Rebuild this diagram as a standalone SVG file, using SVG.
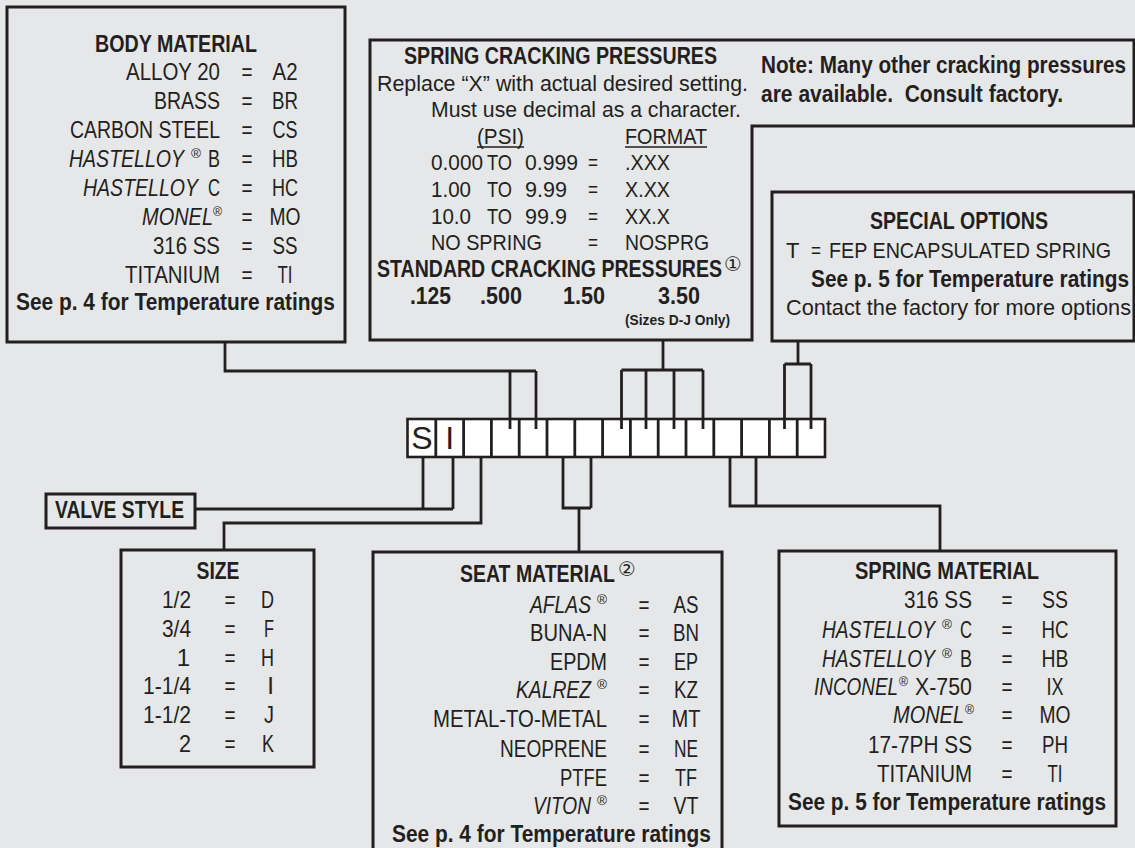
<svg xmlns="http://www.w3.org/2000/svg" width="1135" height="848" viewBox="0 0 1135 848">
<style>
.box{fill:none;stroke:#231f20;stroke-width:3}
.ln{fill:none;stroke:#231f20;stroke-width:2.8}
.cell{fill:#ffffff;stroke:#231f20;stroke-width:2.6}
text{font-family:'Liberation Sans Narrow','Liberation Sans',Arial,sans-serif;fill:#231f20}
.r{font-size:24px}
.s{font-size:22px}
.b{font-size:23px;font-weight:bold}
.m{text-anchor:middle}
.e{text-anchor:end}
.i{font-style:italic}
.sup{font-size:13px}
.circ{font-size:20px;font-family:'DejaVu Sans','Noto Sans CJK SC',sans-serif}
</style>
<rect x="0" y="0" width="1135" height="848" fill="#e6e7e9"/>

<g id="connectors">
<path class="ln" d="M225,342 V371 H536 M510,371 V429 M536,371 V429"/>
<path class="ln" d="M663,340 V370 M621.5,370 H703 M621.5,370 V429 M646,370 V429 M674,370 V429 M703,370 V429"/>
<path class="ln" d="M798,341 V364 M784.5,364 H811 M784.5,364 V429 M811,364 V429"/>
<path class="ln" d="M423,457 V509 M453,457 V509 M195,509 H453"/>
<path class="ln" d="M481,448 V523 H224 V550"/>
<path class="ln" d="M563,448 V508 H591 M591,448 V508 M579,508 V552"/>
<path class="ln" d="M730,448 V506 H940 V551 M756,448 V506"/>
</g>

<g id="code-row">
<rect class="cell" x="407.5" y="419" width="417.5" height="38"/>
<path class="ln" d="M435.8,419 V457 M463.6,419 V457 M491.4,419 V457 M519.2,419 V457 M547,419 V457 M574.8,419 V457 M602.6,419 V457 M630.4,419 V457 M658.2,419 V457 M686,419 V457 M713.8,419 V457 M741.6,419 V457 M769.4,419 V457 M797.2,419 V457" stroke-width="2.6"/>
<path class="ln" d="M510,429 V419 M536,429 V419 M621.5,429 V419 M646,429 V419 M674,429 V419 M703,429 V419 M784.5,429 V419 M811,429 V419"/>
<text x="422" y="448.5" class="m" style="font-size:32px">S</text>
<text x="449.7" y="448.5" class="m" style="font-size:32px">I</text>
</g>

<g id="body-material">
<rect class="box" x="7" y="7" width="338" height="335"/>
<text class="b m" x="176" y="52" textLength="162" lengthAdjust="spacingAndGlyphs">BODY MATERIAL</text>
<text class="r e" x="220" y="80" textLength="94" lengthAdjust="spacingAndGlyphs">ALLOY 20</text><text class="r m" x="247" y="80" textLength="11" lengthAdjust="spacingAndGlyphs">=</text><text class="r m" x="285" y="80" textLength="25" lengthAdjust="spacingAndGlyphs">A2</text>
<text class="r e" x="220" y="109" textLength="66" lengthAdjust="spacingAndGlyphs">BRASS</text><text class="r m" x="247" y="109" textLength="11" lengthAdjust="spacingAndGlyphs">=</text><text class="r m" x="285" y="109" textLength="26" lengthAdjust="spacingAndGlyphs">BR</text>
<text class="r e" x="220" y="138" textLength="150" lengthAdjust="spacingAndGlyphs">CARBON STEEL</text><text class="r m" x="247" y="138" textLength="11" lengthAdjust="spacingAndGlyphs">=</text><text class="r m" x="285" y="138" textLength="25" lengthAdjust="spacingAndGlyphs">CS</text>
<text class="r i" x="69" y="167" textLength="115" lengthAdjust="spacingAndGlyphs">HASTELLOY</text><text class="sup" x="191" y="158" textLength="10" lengthAdjust="spacingAndGlyphs">®</text><text class="r e" x="220" y="167" textLength="12" lengthAdjust="spacingAndGlyphs">B</text><text class="r m" x="247" y="167" textLength="11" lengthAdjust="spacingAndGlyphs">=</text><text class="r m" x="285" y="167" textLength="26" lengthAdjust="spacingAndGlyphs">HB</text>
<text class="r i" x="83" y="196" textLength="115" lengthAdjust="spacingAndGlyphs">HASTELLOY</text><text class="r e" x="220" y="196" textLength="12" lengthAdjust="spacingAndGlyphs">C</text><text class="r m" x="247" y="196" textLength="11" lengthAdjust="spacingAndGlyphs">=</text><text class="r m" x="285" y="196" textLength="26" lengthAdjust="spacingAndGlyphs">HC</text>
<text class="r i" x="142" y="225" textLength="71" lengthAdjust="spacingAndGlyphs">MONEL</text><text class="sup" x="213" y="216" textLength="9" lengthAdjust="spacingAndGlyphs">®</text><text class="r m" x="247" y="225" textLength="11" lengthAdjust="spacingAndGlyphs">=</text><text class="r m" x="285" y="225" textLength="31" lengthAdjust="spacingAndGlyphs">MO</text>
<text class="r e" x="220" y="254" textLength="67" lengthAdjust="spacingAndGlyphs">316 SS</text><text class="r m" x="247" y="254" textLength="11" lengthAdjust="spacingAndGlyphs">=</text><text class="r m" x="285" y="254" textLength="25" lengthAdjust="spacingAndGlyphs">SS</text>
<text class="r e" x="220" y="283" textLength="95" lengthAdjust="spacingAndGlyphs">TITANIUM</text><text class="r m" x="247" y="283" textLength="11" lengthAdjust="spacingAndGlyphs">=</text><text class="r m" x="285" y="283" textLength="15" lengthAdjust="spacingAndGlyphs">TI</text>
<text class="b" x="16" y="310" textLength="319" lengthAdjust="spacingAndGlyphs">See p. 4 for Temperature ratings</text>
</g>

<g id="spring-cracking-pressures">
<path class="box" d="M370,40 H1134 V126 H752 V340 H370 Z"/>
<text class="b" x="404" y="64" textLength="313" lengthAdjust="spacingAndGlyphs">SPRING CRACKING PRESSURES</text>
<text class="s" x="377" y="91" textLength="371" lengthAdjust="spacingAndGlyphs">Replace “X” with actual desired setting.</text>
<text class="s" x="431" y="117" textLength="310" lengthAdjust="spacingAndGlyphs">Must use decimal as a character.</text>
<text class="s" x="477" y="144" textLength="47" lengthAdjust="spacingAndGlyphs">(PSI)</text>
<text class="s" x="625" y="144" textLength="82" lengthAdjust="spacingAndGlyphs">FORMAT</text>
<path d="M477,147 H524 M625,147 H707" stroke="#231f20" stroke-width="1.3" fill="none"/>
<text class="s" x="431" y="170" textLength="52" lengthAdjust="spacingAndGlyphs">0.000</text><text class="s" x="487" y="170" textLength="25" lengthAdjust="spacingAndGlyphs">TO</text><text class="s" x="525" y="170" textLength="53" lengthAdjust="spacingAndGlyphs">0.999</text><text class="s" x="588" y="170" textLength="10" lengthAdjust="spacingAndGlyphs">=</text><text class="s" x="625" y="170" textLength="45" lengthAdjust="spacingAndGlyphs">.XXX</text>
<text class="s" x="431" y="197" textLength="40" lengthAdjust="spacingAndGlyphs">1.00</text><text class="s" x="487" y="197" textLength="25" lengthAdjust="spacingAndGlyphs">TO</text><text class="s" x="525" y="197" textLength="42" lengthAdjust="spacingAndGlyphs">9.99</text><text class="s" x="588" y="197" textLength="10" lengthAdjust="spacingAndGlyphs">=</text><text class="s" x="625" y="197" textLength="45" lengthAdjust="spacingAndGlyphs">X.XX</text>
<text class="s" x="431" y="224" textLength="40" lengthAdjust="spacingAndGlyphs">10.0</text><text class="s" x="487" y="224" textLength="25" lengthAdjust="spacingAndGlyphs">TO</text><text class="s" x="525" y="224" textLength="42" lengthAdjust="spacingAndGlyphs">99.9</text><text class="s" x="588" y="224" textLength="10" lengthAdjust="spacingAndGlyphs">=</text><text class="s" x="625" y="224" textLength="45" lengthAdjust="spacingAndGlyphs">XX.X</text>
<text class="s" x="431" y="250" textLength="111" lengthAdjust="spacingAndGlyphs">NO SPRING</text><text class="s" x="588" y="250" textLength="10" lengthAdjust="spacingAndGlyphs">=</text><text class="s" x="625" y="250" textLength="84" lengthAdjust="spacingAndGlyphs">NOSPRG</text>
<text class="b" x="377" y="277" textLength="345" lengthAdjust="spacingAndGlyphs">STANDARD CRACKING PRESSURES</text>
<text class="circ" x="724" y="271">①</text>
<text class="b" x="410" y="304" textLength="41" lengthAdjust="spacingAndGlyphs">.125</text>
<text class="b" x="480" y="304" textLength="42" lengthAdjust="spacingAndGlyphs">.500</text>
<text class="b" x="563" y="304" textLength="42" lengthAdjust="spacingAndGlyphs">1.50</text>
<text class="b" x="658" y="304" textLength="42" lengthAdjust="spacingAndGlyphs">3.50</text>
<text x="625" y="325" style="font-size:15px;font-weight:bold" textLength="105" lengthAdjust="spacingAndGlyphs">(Sizes D-J Only)</text>
<text class="b" x="761" y="73" textLength="365" lengthAdjust="spacingAndGlyphs" style="font-size:24px">Note: Many other cracking pressures</text>
<text class="b" x="761" y="102" textLength="302" lengthAdjust="spacingAndGlyphs" style="font-size:24px">are available.&#160; Consult factory.</text>
</g>

<g id="special-options">
<rect class="box" x="772" y="192" width="362" height="149"/>
<text class="b" x="870" y="229" textLength="178" lengthAdjust="spacingAndGlyphs">SPECIAL OPTIONS</text>
<text class="s" x="786" y="258">T</text><text class="s" x="811" y="258" textLength="10" lengthAdjust="spacingAndGlyphs">=</text>
<text class="s" x="829" y="258" textLength="282" lengthAdjust="spacingAndGlyphs">FEP ENCAPSULATED SPRING</text>
<text class="b" x="811" y="287" textLength="318" lengthAdjust="spacingAndGlyphs">See p. 5 for Temperature ratings</text>
<text class="s" x="786" y="315" textLength="345" lengthAdjust="spacingAndGlyphs">Contact the factory for more options</text>
</g>

<g id="valve-style">
<rect class="box" x="46" y="494" width="149" height="34"/>
<text class="b" x="55" y="518" textLength="129" lengthAdjust="spacingAndGlyphs">VALVE STYLE</text>
</g>

<g id="size">
<rect class="box" x="121" y="550" width="193" height="217"/>
<text class="b m" x="218" y="579" textLength="43" lengthAdjust="spacingAndGlyphs">SIZE</text>
<text class="r e" x="191" y="608" textLength="29" lengthAdjust="spacingAndGlyphs">1/2</text><text class="r m" x="230" y="608" textLength="11" lengthAdjust="spacingAndGlyphs">=</text><text class="r e" x="274" y="608" textLength="13" lengthAdjust="spacingAndGlyphs">D</text>
<text class="r e" x="191" y="637" textLength="29" lengthAdjust="spacingAndGlyphs">3/4</text><text class="r m" x="230" y="637" textLength="11" lengthAdjust="spacingAndGlyphs">=</text><text class="r e" x="274" y="637" textLength="10" lengthAdjust="spacingAndGlyphs">F</text>
<text class="r e" x="190" y="666">1</text><text class="r m" x="230" y="666" textLength="11" lengthAdjust="spacingAndGlyphs">=</text><text class="r e" x="274" y="666" textLength="13" lengthAdjust="spacingAndGlyphs">H</text>
<text class="r e" x="191" y="694" textLength="48" lengthAdjust="spacingAndGlyphs">1-1/4</text><text class="r m" x="230" y="694" textLength="11" lengthAdjust="spacingAndGlyphs">=</text><text class="r e" x="274" y="694">I</text>
<text class="r e" x="191" y="723" textLength="48" lengthAdjust="spacingAndGlyphs">1-1/2</text><text class="r m" x="230" y="723" textLength="11" lengthAdjust="spacingAndGlyphs">=</text><text class="r e" x="274" y="723" textLength="10" lengthAdjust="spacingAndGlyphs">J</text>
<text class="r e" x="191" y="752" textLength="12" lengthAdjust="spacingAndGlyphs">2</text><text class="r m" x="230" y="752" textLength="11" lengthAdjust="spacingAndGlyphs">=</text><text class="r e" x="274" y="752" textLength="12" lengthAdjust="spacingAndGlyphs">K</text>
</g>

<g id="seat-material">
<rect class="box" x="373" y="552" width="349" height="310"/>
<text class="b" x="460" y="582" textLength="155" lengthAdjust="spacingAndGlyphs">SEAT MATERIAL</text>
<text class="circ" x="618" y="576">②</text>
<text class="r i" x="530" y="613" textLength="61" lengthAdjust="spacingAndGlyphs">AFLAS</text><text class="sup" x="597" y="604" textLength="10" lengthAdjust="spacingAndGlyphs">®</text><text class="r m" x="644" y="613" textLength="11" lengthAdjust="spacingAndGlyphs">=</text><text class="r m" x="686" y="613" textLength="25" lengthAdjust="spacingAndGlyphs">AS</text>
<text class="r e" x="607" y="641" textLength="77" lengthAdjust="spacingAndGlyphs">BUNA-N</text><text class="r m" x="644" y="641" textLength="11" lengthAdjust="spacingAndGlyphs">=</text><text class="r m" x="686" y="641" textLength="26" lengthAdjust="spacingAndGlyphs">BN</text>
<text class="r e" x="607" y="670" textLength="57" lengthAdjust="spacingAndGlyphs">EPDM</text><text class="r m" x="644" y="670" textLength="11" lengthAdjust="spacingAndGlyphs">=</text><text class="r m" x="686" y="670" textLength="24" lengthAdjust="spacingAndGlyphs">EP</text>
<text class="r i" x="516" y="698" textLength="75" lengthAdjust="spacingAndGlyphs">KALREZ</text><text class="sup" x="597" y="689" textLength="10" lengthAdjust="spacingAndGlyphs">®</text><text class="r m" x="644" y="698" textLength="11" lengthAdjust="spacingAndGlyphs">=</text><text class="r m" x="686" y="698" textLength="24" lengthAdjust="spacingAndGlyphs">KZ</text>
<text class="r e" x="607" y="727" textLength="174" lengthAdjust="spacingAndGlyphs">METAL-TO-METAL</text><text class="r m" x="644" y="727" textLength="11" lengthAdjust="spacingAndGlyphs">=</text><text class="r m" x="686" y="727" textLength="29" lengthAdjust="spacingAndGlyphs">MT</text>
<text class="r e" x="607" y="757" textLength="107" lengthAdjust="spacingAndGlyphs">NEOPRENE</text><text class="r m" x="644" y="757" textLength="11" lengthAdjust="spacingAndGlyphs">=</text><text class="r m" x="686" y="757" textLength="24" lengthAdjust="spacingAndGlyphs">NE</text>
<text class="r e" x="607" y="786" textLength="47" lengthAdjust="spacingAndGlyphs">PTFE</text><text class="r m" x="644" y="786" textLength="11" lengthAdjust="spacingAndGlyphs">=</text><text class="r m" x="686" y="786" textLength="22" lengthAdjust="spacingAndGlyphs">TF</text>
<text class="r i" x="533" y="814" textLength="58" lengthAdjust="spacingAndGlyphs">VITON</text><text class="sup" x="597" y="805" textLength="10" lengthAdjust="spacingAndGlyphs">®</text><text class="r m" x="644" y="814" textLength="11" lengthAdjust="spacingAndGlyphs">=</text><text class="r m" x="686" y="814" textLength="25" lengthAdjust="spacingAndGlyphs">VT</text>
<text class="b" x="392" y="842" textLength="319" lengthAdjust="spacingAndGlyphs">See p. 4 for Temperature ratings</text>
</g>

<g id="spring-material">
<rect class="box" x="779" y="551" width="337" height="275"/>
<text class="b" x="855" y="579" textLength="184" lengthAdjust="spacingAndGlyphs">SPRING MATERIAL</text>
<text class="r e" x="972" y="608" textLength="68" lengthAdjust="spacingAndGlyphs">316 SS</text><text class="r m" x="1007" y="608" textLength="11" lengthAdjust="spacingAndGlyphs">=</text><text class="r m" x="1055" y="608" textLength="26" lengthAdjust="spacingAndGlyphs">SS</text>
<text class="r i" x="822" y="638" textLength="113" lengthAdjust="spacingAndGlyphs">HASTELLOY</text><text class="sup" x="942" y="629" textLength="10" lengthAdjust="spacingAndGlyphs">®</text><text class="r e" x="972" y="638" textLength="12" lengthAdjust="spacingAndGlyphs">C</text><text class="r m" x="1007" y="638" textLength="11" lengthAdjust="spacingAndGlyphs">=</text><text class="r m" x="1055" y="638" textLength="27" lengthAdjust="spacingAndGlyphs">HC</text>
<text class="r i" x="822" y="667" textLength="113" lengthAdjust="spacingAndGlyphs">HASTELLOY</text><text class="sup" x="942" y="658" textLength="10" lengthAdjust="spacingAndGlyphs">®</text><text class="r e" x="972" y="667" textLength="12" lengthAdjust="spacingAndGlyphs">B</text><text class="r m" x="1007" y="667" textLength="11" lengthAdjust="spacingAndGlyphs">=</text><text class="r m" x="1055" y="667" textLength="27" lengthAdjust="spacingAndGlyphs">HB</text>
<text class="r i" x="814" y="695" textLength="84" lengthAdjust="spacingAndGlyphs">INCONEL</text><text class="sup" x="899" y="686" textLength="9" lengthAdjust="spacingAndGlyphs">®</text><text class="r e" x="972" y="695" textLength="57" lengthAdjust="spacingAndGlyphs">X-750</text><text class="r m" x="1007" y="695" textLength="11" lengthAdjust="spacingAndGlyphs">=</text><text class="r m" x="1055" y="695" textLength="17" lengthAdjust="spacingAndGlyphs">IX</text>
<text class="r i" x="893" y="723" textLength="71" lengthAdjust="spacingAndGlyphs">MONEL</text><text class="sup" x="965" y="714" textLength="9" lengthAdjust="spacingAndGlyphs">®</text><text class="r m" x="1007" y="723" textLength="11" lengthAdjust="spacingAndGlyphs">=</text><text class="r m" x="1055" y="723" textLength="31" lengthAdjust="spacingAndGlyphs">MO</text>
<text class="r e" x="972" y="753" textLength="104" lengthAdjust="spacingAndGlyphs">17-7PH SS</text><text class="r m" x="1007" y="753" textLength="11" lengthAdjust="spacingAndGlyphs">=</text><text class="r m" x="1055" y="753" textLength="26" lengthAdjust="spacingAndGlyphs">PH</text>
<text class="r e" x="972" y="782" textLength="95" lengthAdjust="spacingAndGlyphs">TITANIUM</text><text class="r m" x="1007" y="782" textLength="11" lengthAdjust="spacingAndGlyphs">=</text><text class="r m" x="1055" y="782" textLength="15" lengthAdjust="spacingAndGlyphs">TI</text>
<text class="b" x="788" y="810" textLength="318" lengthAdjust="spacingAndGlyphs">See p. 5 for Temperature ratings</text>
</g>
</svg>
